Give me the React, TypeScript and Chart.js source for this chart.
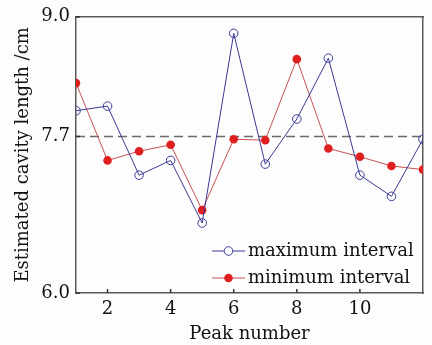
import React, { useEffect, useRef } from "react";
import { Chart, registerables } from "chart.js";

Chart.register(...registerables);

const peaks = [1, 2, 3, 4, 5, 6, 7, 8, 9, 10, 11, 12];
const maxInterval = [7.98, 8.03, 7.28, 7.44, 6.76, 8.82, 7.40, 7.89, 8.55, 7.28, 7.05, 7.67];
const minInterval = [8.28, 7.44, 7.54, 7.61, 6.90, 7.67, 7.66, 8.54, 7.57, 7.48, 7.38, 7.34];
const refLevel = 7.7;
const yTicks = [6.0, 7.7, 9.0];
const xTicks = [2, 4, 6, 8, 10];
const seriesLabels = ["maximum interval", "minimum interval"];

const FONT = "'DejaVu Serif', serif";
const FRAME = "#5a5a5a";

const framePlugin = {
  id: "frameTicks",
  afterDraw(chart: any) {
    const ctx: CanvasRenderingContext2D = chart.ctx;
    const a = chart.chartArea;
    const xs = chart.scales.x;
    const ys = chart.scales.y;
    ctx.save();
    ctx.strokeStyle = "#333333";
    ctx.lineWidth = 1.5;
    xTicks.forEach((v) => {
      const x = xs.getPixelForValue(v);
      ctx.beginPath();
      ctx.moveTo(x, a.bottom);
      ctx.lineTo(x, a.bottom - 4);
      ctx.stroke();
    });
    yTicks.forEach((v) => {
      const y = ys.getPixelForValue(v);
      ctx.beginPath();
      ctx.moveTo(a.left, y);
      ctx.lineTo(a.left + 4, y);
      ctx.stroke();
    });

    const rows = [
      { y: 251, color: "#3a3a96", fill: false, label: chart.data.datasets[0].label },
      { y: 278, color: "#c85050", fill: true, label: chart.data.datasets[1].label },
    ];
    rows.forEach((r) => {
      ctx.strokeStyle = r.color;
      ctx.lineWidth = 1;
      ctx.beginPath();
      ctx.moveTo(212, r.y);
      ctx.lineTo(245, r.y);
      ctx.stroke();
      ctx.beginPath();
      ctx.arc(228.5, r.y, 4.3, 0, Math.PI * 2);
      if (r.fill) {
        ctx.fillStyle = "#e02020";
        ctx.fill();
      } else {
        ctx.fillStyle = "#ffffff";
        ctx.fill();
        ctx.strokeStyle = "#3a3a96";
        ctx.stroke();
      }
      ctx.fillStyle = "#111";
      ctx.font = `18px ${FONT}`;
      ctx.textBaseline = "middle";
      ctx.textAlign = "left";
      ctx.fillText(r.label, 248, r.y);
    });
    ctx.restore();
  },
};

export default function App() {
  const ref = useRef<HTMLCanvasElement>(null);
  useEffect(() => {
    const chart = new Chart(ref.current!, {
      type: "line",
      data: {
        datasets: [
          {
            label: seriesLabels[0],
            data: peaks.map((p, i) => ({ x: p, y: maxInterval[i] })),
            borderColor: "#3a3a96",
            borderWidth: 1,
            pointStyle: "circle",
            pointRadius: 4.3,
            pointBackgroundColor: "rgba(255,255,255,0)",
            pointBorderColor: "#3a3a96",
            pointBorderWidth: 1,
            tension: 0,
          },
          {
            label: seriesLabels[1],
            data: peaks.map((p, i) => ({ x: p, y: minInterval[i] })),
            borderColor: "#c85050",
            borderWidth: 1,
            pointRadius: 4.3,
            pointBackgroundColor: "#e02020",
            pointBorderColor: "#e02020",
            pointBorderWidth: 0,
            tension: 0,
          },
          {
            label: "ref",
            data: [
              { x: peaks[0], y: refLevel },
              { x: peaks[peaks.length - 1], y: refLevel },
            ],
            borderColor: "#6a6a6a",
            borderWidth: 1.6,
            borderDash: [9, 5],
            pointRadius: 0,
            order: 10,
          },
        ],
      },
      options: {
        animation: false,
        responsive: false,
        maintainAspectRatio: false,
        layout: { padding: { top: 15, right: 9, left: 13, bottom: 0 } },
        plugins: { legend: { display: false }, tooltip: { enabled: false } },
        scales: {
          x: {
            type: "linear",
            min: 1,
            max: 12,
            afterBuildTicks: (s: any) => {
              s.ticks = xTicks.map((v) => ({ value: v }));
            },
            afterFit: (s: any) => {
              s.height = 52;
            },
            grid: { display: false, drawTicks: false },
            border: { display: true, color: FRAME, width: 1.5 },
            ticks: {
              color: "#111",
              font: { family: FONT, size: 18 },
              padding: 6,
              maxRotation: 0,
            },
            title: {
              display: true,
              text: "Peak number",
              color: "#111",
              font: { family: FONT, size: 18 },
              padding: { top: 0, bottom: 0 },
            },
          },
          x2: {
            type: "linear",
            position: "top",
            min: 1,
            max: 12,
            afterFit: (s: any) => {
              s.height = 0;
            },
            grid: { display: false, drawTicks: false },
            border: { display: true, color: FRAME, width: 1.5 },
            ticks: { display: false },
          },
          y: {
            min: 6,
            max: 9,
            afterBuildTicks: (s: any) => {
              s.ticks = yTicks.map((v) => ({ value: v }));
            },
            afterFit: (s: any) => {
              s.width = 63;
            },
            grid: { display: false, drawTicks: false },
            border: { display: true, color: FRAME, width: 1.5 },
            ticks: {
              color: "#111",
              font: { family: FONT, size: 18 },
              padding: 6,
              callback: (v: any) => Number(v).toFixed(1),
            },
            title: {
              display: true,
              text: "Estimated cavity length /cm",
              color: "#111",
              font: { family: FONT, size: 18 },
              padding: { top: 0, bottom: 0 },
            },
          },
          y2: {
            position: "right",
            min: 6,
            max: 9,
            afterFit: (s: any) => {
              s.width = 0;
            },
            grid: { display: false, drawTicks: false },
            border: { display: true, color: FRAME, width: 1.5 },
            ticks: { display: false },
          },
        },
      },
      plugins: [framePlugin],
    });
    return () => chart.destroy();
  }, []);
  return (
    <div style={{ position: "absolute", left: 0, top: 0, width: 432, height: 345, background: "#fdfdfd" }}>
      <canvas ref={ref} width={432} height={345} />
    </div>
  );
}
